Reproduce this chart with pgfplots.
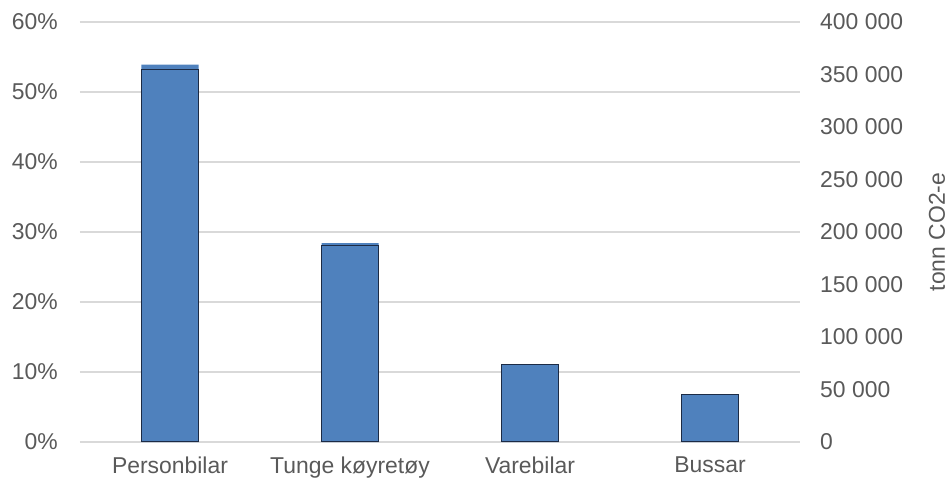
\documentclass[border=0pt]{standalone}
\usepackage{pgfplots}
\pgfplotsset{compat=1.18}
\usepackage{fontspec}
\setmainfont{Liberation Sans}

\definecolor{barblue}{HTML}{4F81BD}
\definecolor{baredge}{HTML}{1C2B45}
\definecolor{gridgray}{HTML}{D9D9D9}
\definecolor{textgray}{HTML}{595959}

\begin{document}
\begin{tikzpicture}
\pgfplotsset{
  base/.style={
    at={(0,0)}, anchor=south west,
    scale only axis,
    width=720bp, height=420bp,
    xmin=-0.5, xmax=3.5,
    xtick={0,1,2,3},
    major tick length=0pt,
    ybar, bar width=57bp,
    tick label style={font=\fontsize{23}{27}\selectfont, color=textgray, inner sep=0pt},
    axis line style={draw=none},
  }
}
% andel (venstre akse)
\begin{axis}[
  base,
  ymin=0, ymax=60,
  ytick={0,10,20,30,40,50,60},
  yticklabels={0\%,10\%,20\%,30\%,40\%,50\%,60\%},
  yticklabel style={anchor=east, xshift=-22bp},
  xticklabels={Personbilar,Tunge køyretøy,Varebilar,Bussar},
  xticklabel style={anchor=north, yshift=-15bp},
  ymajorgrids=true,
  grid style={gridgray, line width=1.4bp},
]
\addplot[fill=barblue, draw=none] coordinates {
  (0,53.9) (1,28.4) (2,11.1) (3,6.8)
};
\end{axis}
% tonn CO2-e (høgre akse)
\begin{axis}[
  base,
  axis y line*=right,
  axis x line=none,
  ymin=0, ymax=400000,
  scaled y ticks=false,
  ytick={0,50000,100000,150000,200000,250000,300000,350000,400000},
  yticklabels={0,50 000,100 000,150 000,200 000,250 000,300 000,350 000,400 000},
  yticklabel style={anchor=west, xshift=20bp},
]
\addplot[fill=barblue, draw=baredge, line width=1.2bp] coordinates {
  (0,355000) (1,187500) (2,74000) (3,45000)
};
\end{axis}
\node[rotate=90, font=\fontsize{23}{27}\selectfont, text=textgray, inner sep=0pt]
  at (857bp,210bp) {tonn CO2-e};
\pgfresetboundingbox
\path (-80bp,-45bp) rectangle (869bp,442bp);
\end{tikzpicture}
\end{document}
